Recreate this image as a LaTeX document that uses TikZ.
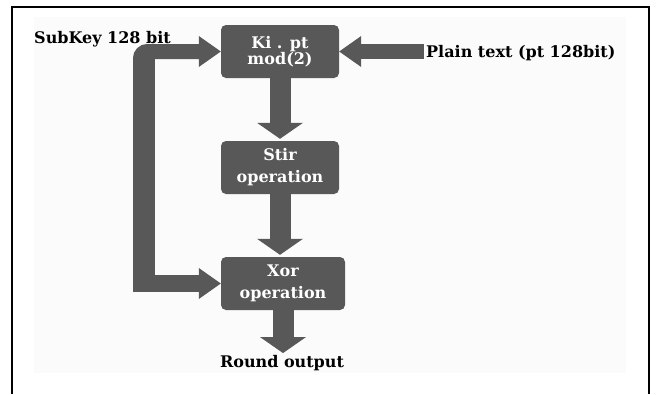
\documentclass[tikz,border=0pt]{standalone}
\usepackage{fontspec}
\setmainfont{DejaVu Serif}
\usetikzlibrary{arrows.meta}
\definecolor{blockgray}{RGB}{88,88,88}

\begin{document}
\begin{tikzpicture}[x=1pt,y=-1pt,
	opbox/.style={fill=blockgray, rounded corners=5pt, minimum width=118pt, minimum height=53pt, inner sep=0pt, text=white, align=center, font=\bfseries\fontsize{16}{22}\selectfont},
	txtlabel/.style={inner sep=2pt, font=\bfseries\fontsize{16}{18}\selectfont},
	downarrow/.style={blockgray, line width=21pt, -{Triangle[length=16pt,width=46pt,line width=0pt]}},
	sidearrow/.style={blockgray, line width=15pt, -{Triangle[length=22pt,width=31pt,line width=0pt]}}]
	\useasboundingbox (0,0) rectangle (659,394);
	\fill[black!1.5] (34,17) rectangle (626,373);
	\draw[line width=2.5pt] (12,394) -- (12,7) -- (649,7) -- (649,394);
	% blocks
	\node[opbox, font=\bfseries\fontsize{16}{15}\selectfont] (kibox) at (280,51.5) {Ki . pt\\mod(2)};
	\node[opbox] (stirbox) at (280,167.5) {Stir\\operation};
	\node[opbox, minimum width=124pt] (xorbox) at (283,283.5) {Xor\\operation};
	% labels
	\node[txtlabel] (outlabel) at (282,363) {Round output};
	\node[txtlabel, anchor=west, inner sep=0pt] (keylabel) at (34,39) {SubKey 128 bit};
	\node[txtlabel, anchor=west] (plainlabel) at (424,53) {Plain text (pt 128bit)};
	% main flow
	\draw[downarrow] (kibox.south) -- ([yshift=2pt]stirbox.north);
	\draw[downarrow] (stirbox.south) -- ([yshift=2pt]stirbox.south |- xorbox.north);
	\draw[downarrow] (xorbox.south) -- (xorbox.south |- outlabel.north);
	\draw[sidearrow] (plainlabel.west |- kibox.east) -- (kibox.east);
	% subkey loop
	\coordinate (keyfoot) at (144,292);
	\coordinate (keyknee) at (144,59);
	\coordinate (keyheel) at (133,283.5);
	\draw[blockgray, line width=22pt] (keyfoot) -- (keyknee);
	\draw[sidearrow, rounded corners=7pt] ([xshift=-3.5pt,yshift=-10pt]keyknee) |- (kibox.west);
	\draw[sidearrow, line width=17pt] (keyheel) -- (xorbox.west);
\end{tikzpicture}
\end{document}
